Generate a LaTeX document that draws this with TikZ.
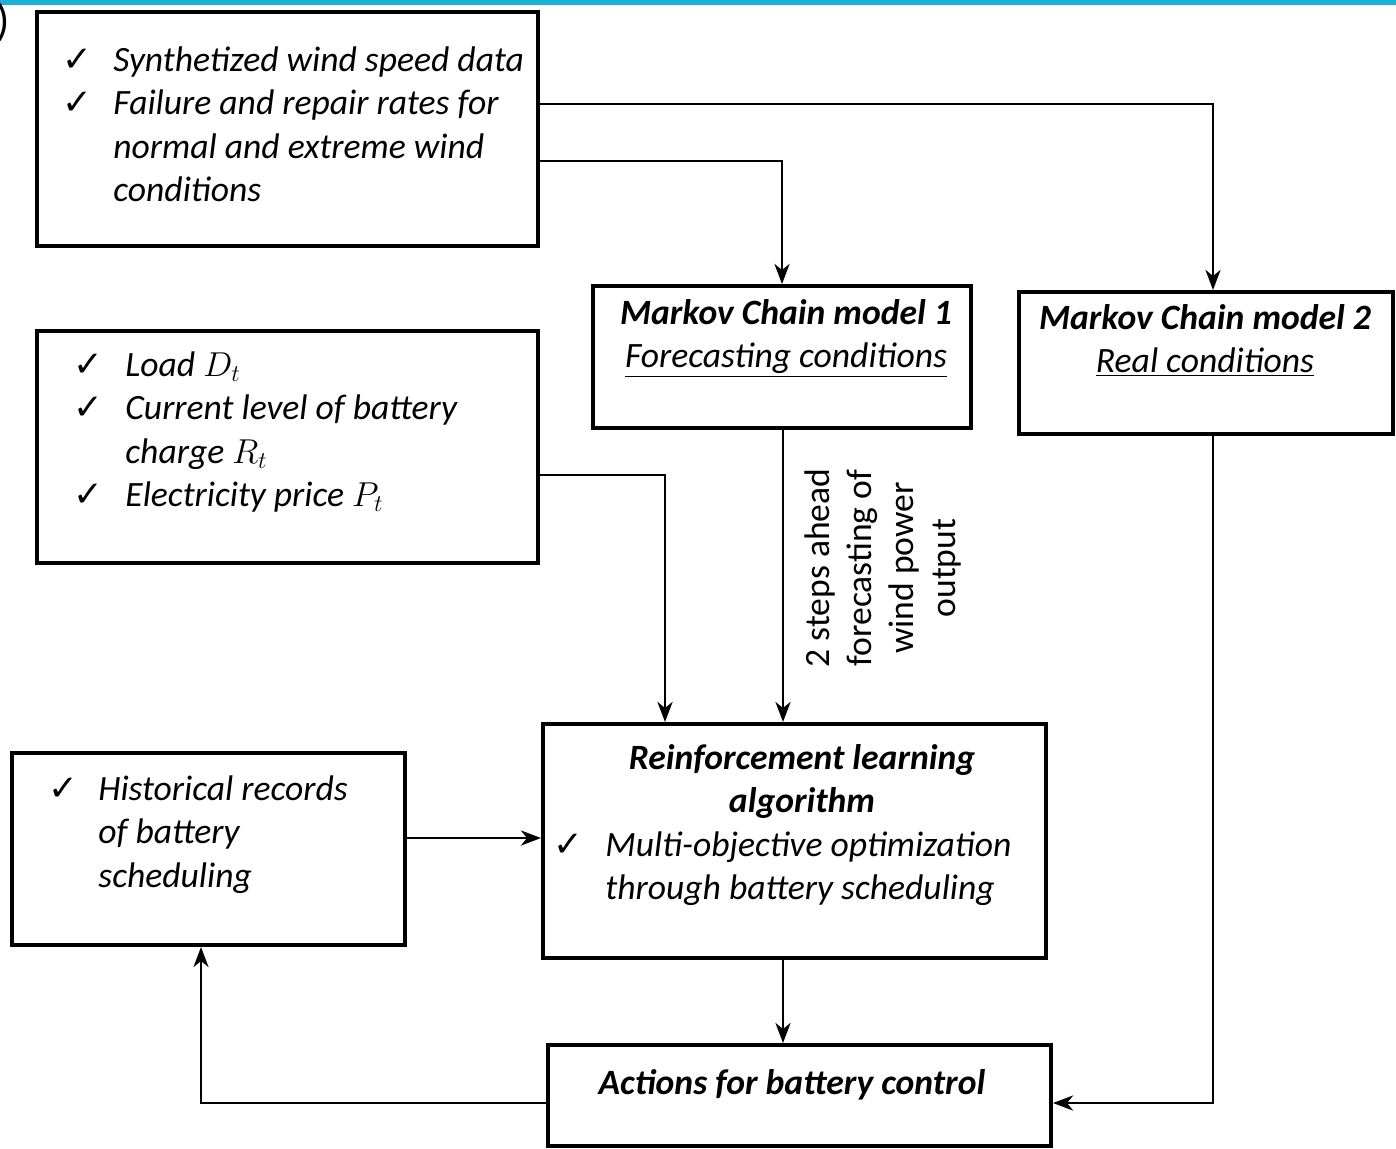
\documentclass[tikz,border=0pt]{standalone}
\usepackage{fontspec}
\setmainfont{Carlito}
\newfontfamily\djv{DejaVu Sans}
\usetikzlibrary{arrows.meta}
\definecolor{cyanbar}{RGB}{27,176,216}
\newcommand{\ck}[1]{\makebox[#1][l]{\djv\upshape ✓}}
\begin{document}
\begin{tikzpicture}[x=0.5pt,y=-0.5pt,
  box/.style={draw, line width=2pt, inner sep=0pt, fill=none},
  txt/.style={inner sep=0pt, font=\fontsize{17.8}{21.75}\selectfont\itshape},
  ttl/.style={inner sep=0pt, font=\fontsize{17.8}{21.75}\selectfont\bfseries\itshape},
  conn/.style={line width=1.45pt, -{Stealth[length=10pt,width=7.5pt,inset=3pt]}}]
\useasboundingbox (0,0) rectangle (1396,1148);
\fill[cyanbar] (0,0) rectangle (1396,5);
\node[inner sep=0pt, anchor=east, font=\fontsize{22}{24}\selectfont] (paren) at (10,22) {)};

% boxes
\node[box, minimum width=250.5pt, minimum height=117pt] (A) at (287.5,129) {};
\node[box, minimum width=250.5pt, minimum height=116pt] (B) at (287.5,447) {};
\node[box, minimum width=189pt, minimum height=71pt] (MC1) at (782,357) {};
\node[box, minimum width=187pt, minimum height=71pt] (MC2) at (1206,363) {};
\node[box, minimum width=251.5pt, minimum height=117pt] (RL) at (794.5,841) {};
\node[box, minimum width=196.5pt, minimum height=96pt] (H) at (208.5,849) {};
\node[box, minimum width=251.5pt, minimum height=50.5pt] (ACT) at (799.5,1095.5) {};

% texts
\node[txt, anchor=base west] (Atext) at (62,71) {\begin{tabular}[t]{@{}l@{}l@{}}
\ck{25.5pt} & Synthetized wind speed data\\
\ck{25.5pt} & Failure and repair rates for\\
 & normal and extreme wind\\
 & conditions
\end{tabular}};

\node[txt, anchor=base west] (Btext) at (73,376) {\begin{tabular}[t]{@{}l@{}l@{}}
\ck{26pt} & Load $D_t$\\
\ck{26pt} & Current level of battery\\
 & charge $R_t$\\
\ck{26pt} & Electricity price $P_t$
\end{tabular}};

\node[txt, anchor=base] (MC1text) at (786,324) {\begin{tabular}[t]{@{}c@{}}
{\bfseries Markov Chain model 1}\\
\underline{Forecasting conditions}
\end{tabular}};

\node[txt, anchor=base] (MC2text) at (1205,329) {\begin{tabular}[t]{@{}c@{}}
{\bfseries Markov Chain model 2}\\
\underline{Real conditions}
\end{tabular}};

\node[ttl, anchor=base] (RLtitle) at (802,769) {\begin{tabular}[t]{@{}c@{}}
Reinforcement learning\\
algorithm
\end{tabular}};

\node[txt, anchor=base west] (RLtext) at (553,856) {\begin{tabular}[t]{@{}l@{}l@{}}
\ck{26pt} & Multi-objective optimization\\
 & through battery scheduling
\end{tabular}};

\node[txt, anchor=base west] (Htext) at (48,800) {\begin{tabular}[t]{@{}l@{}l@{}}
\ck{25pt} & Historical records\\
 & of battery\\
 & scheduling
\end{tabular}};

\node[ttl, anchor=base] (ACTtext) at (792,1094) {Actions for battery control};

\node[inner sep=0pt, rotate=90, align=center, font=\fontsize{17.8}{21}\selectfont] (lbl) at (883,568)
  {2 steps ahead\\forecasting of\\wind power\\output};

% connectors
\draw[conn] ([yshift=12.5pt]A.east) -| ([xshift=3.5pt]MC2.north);
\draw[conn] ([yshift=-16pt]A.east) -| (MC1.north);
\draw[conn] ([xshift=0.5pt]MC1.south) -- ([xshift=0.5pt]MC1.south |- RL.north);
\draw[conn] ([yshift=-14pt]B.east) -| ([xshift=62pt]RL.north west);
\draw[conn] ([xshift=3.5pt]MC2.south) |- ([yshift=-3.75pt]ACT.east);
\draw[conn] ([yshift=5.5pt]H.east) -- ([yshift=5.5pt]H.east -| RL.west);
\draw[conn] ([xshift=-5.75pt]RL.south) -- ([xshift=-5.75pt]RL.south |- ACT.north);
\draw[conn] ([yshift=-3.75pt]ACT.west) -| ([xshift=-3.75pt]H.south);
\end{tikzpicture}
\end{document}
